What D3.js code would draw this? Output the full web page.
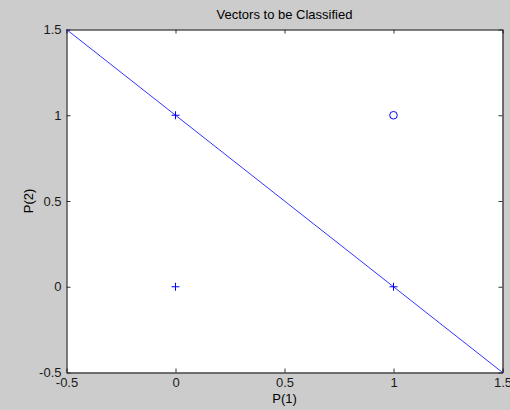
<!DOCTYPE html>
<html>
<head>
<meta charset="utf-8">
<script src="https://cdn.jsdelivr.net/npm/d3@7"></script>
<style>
  body { margin: 0; background: #cccccc; }
  svg { display: block; font-family: "Liberation Sans", Arial, sans-serif; }
</style>
</head>
<body>
<div id="chart"></div>
<script>
// Data
const plusPoints = [[0, 0], [0, 1], [1, 0]];
const circlePoints = [[1, 1]];
const boundary = [[-0.5, 1.5], [1.5, -0.5]];
const xTicks = [-0.5, 0, 0.5, 1, 1.5];
const yTicks = [-0.5, 0, 0.5, 1, 1.5];

const width = 510, height = 410;
const mLeft = 66.5, mRight = 502.5, mTop = 29.5, mBottom = 372.5;

const svg = d3.select('#chart')
    .append('svg')
    .attr('width', width)
    .attr('height', height);

svg.append('rect')
    .attr('width', width)
    .attr('height', height)
    .attr('fill', '#cccccc');

const x = d3.scaleLinear().domain([-0.5, 1.5]).range([mLeft, mRight]);
const y = d3.scaleLinear().domain([-0.5, 1.5]).range([mBottom, mTop]);

svg.append('rect')
    .attr('x', mLeft)
    .attr('y', mTop)
    .attr('width', mRight - mLeft)
    .attr('height', mBottom - mTop)
    .attr('fill', '#ffffff');

const fmt = d => String(d);

// axes (ticks inside, box on all sides)
const axB = svg.append('g').attr('transform', `translate(0,${mBottom})`)
    .call(d3.axisBottom(x).tickValues(xTicks).tickFormat(fmt).tickSizeInner(-4).tickSizeOuter(0).tickPadding(5));
const axT = svg.append('g').attr('transform', `translate(0,${mTop})`)
    .call(d3.axisTop(x).tickValues(xTicks).tickFormat('').tickSizeInner(-4).tickSizeOuter(0));
const axL = svg.append('g').attr('transform', `translate(${mLeft},0)`)
    .call(d3.axisLeft(y).tickValues(yTicks).tickFormat(fmt).tickSizeInner(-4).tickSizeOuter(0).tickPadding(5));
const axR = svg.append('g').attr('transform', `translate(${mRight},0)`)
    .call(d3.axisRight(y).tickValues(yTicks).tickFormat('').tickSizeInner(-4).tickSizeOuter(0));

[axB, axT, axL, axR].forEach(a => {
    a.select('.domain').attr('stroke', '#000');
    a.selectAll('.tick line').attr('stroke', '#333');
    a.selectAll('text').attr('fill', '#1a1a1a').style('font-size', '13px');
});

// boundary line
svg.append('path')
    .datum(boundary)
    .attr('d', d3.line().x(d => x(d[0])).y(d => y(d[1])))
    .attr('stroke', '#0000ff')
    .attr('stroke-width', 0.8)
    .attr('fill', 'none');

// markers
const s = 4;
svg.selectAll('.plus')
    .data(plusPoints)
    .enter().append('path')
    .attr('class', 'plus')
    .attr('d', d => `M${x(d[0]) - s},${y(d[1])}H${x(d[0]) + s}M${x(d[0])},${y(d[1]) - s}V${y(d[1]) + s}`)
    .attr('stroke', '#0000ff')
    .attr('stroke-width', 1);

svg.selectAll('.circ')
    .data(circlePoints)
    .enter().append('circle')
    .attr('cx', d => x(d[0]))
    .attr('cy', d => y(d[1]))
    .attr('r', 3.8)
    .attr('stroke', '#0000ff')
    .attr('stroke-width', 1)
    .attr('fill', 'none');

// labels
svg.append('text')
    .attr('x', (mLeft + mRight) / 2)
    .attr('y', 19)
    .attr('text-anchor', 'middle')
    .style('font-size', '13px')
    .attr('fill', '#000')
    .text('Vectors to be Classified');

svg.append('text')
    .attr('x', (mLeft + mRight) / 2)
    .attr('y', 403)
    .attr('text-anchor', 'middle')
    .style('font-size', '13px')
    .attr('fill', '#000')
    .text('P(1)');

svg.append('text')
    .attr('transform', 'rotate(-90)')
    .attr('x', -(mTop + mBottom) / 2)
    .attr('y', 33)
    .attr('text-anchor', 'middle')
    .style('font-size', '13px')
    .attr('fill', '#000')
    .text('P(2)');
</script>
</body>
</html>
